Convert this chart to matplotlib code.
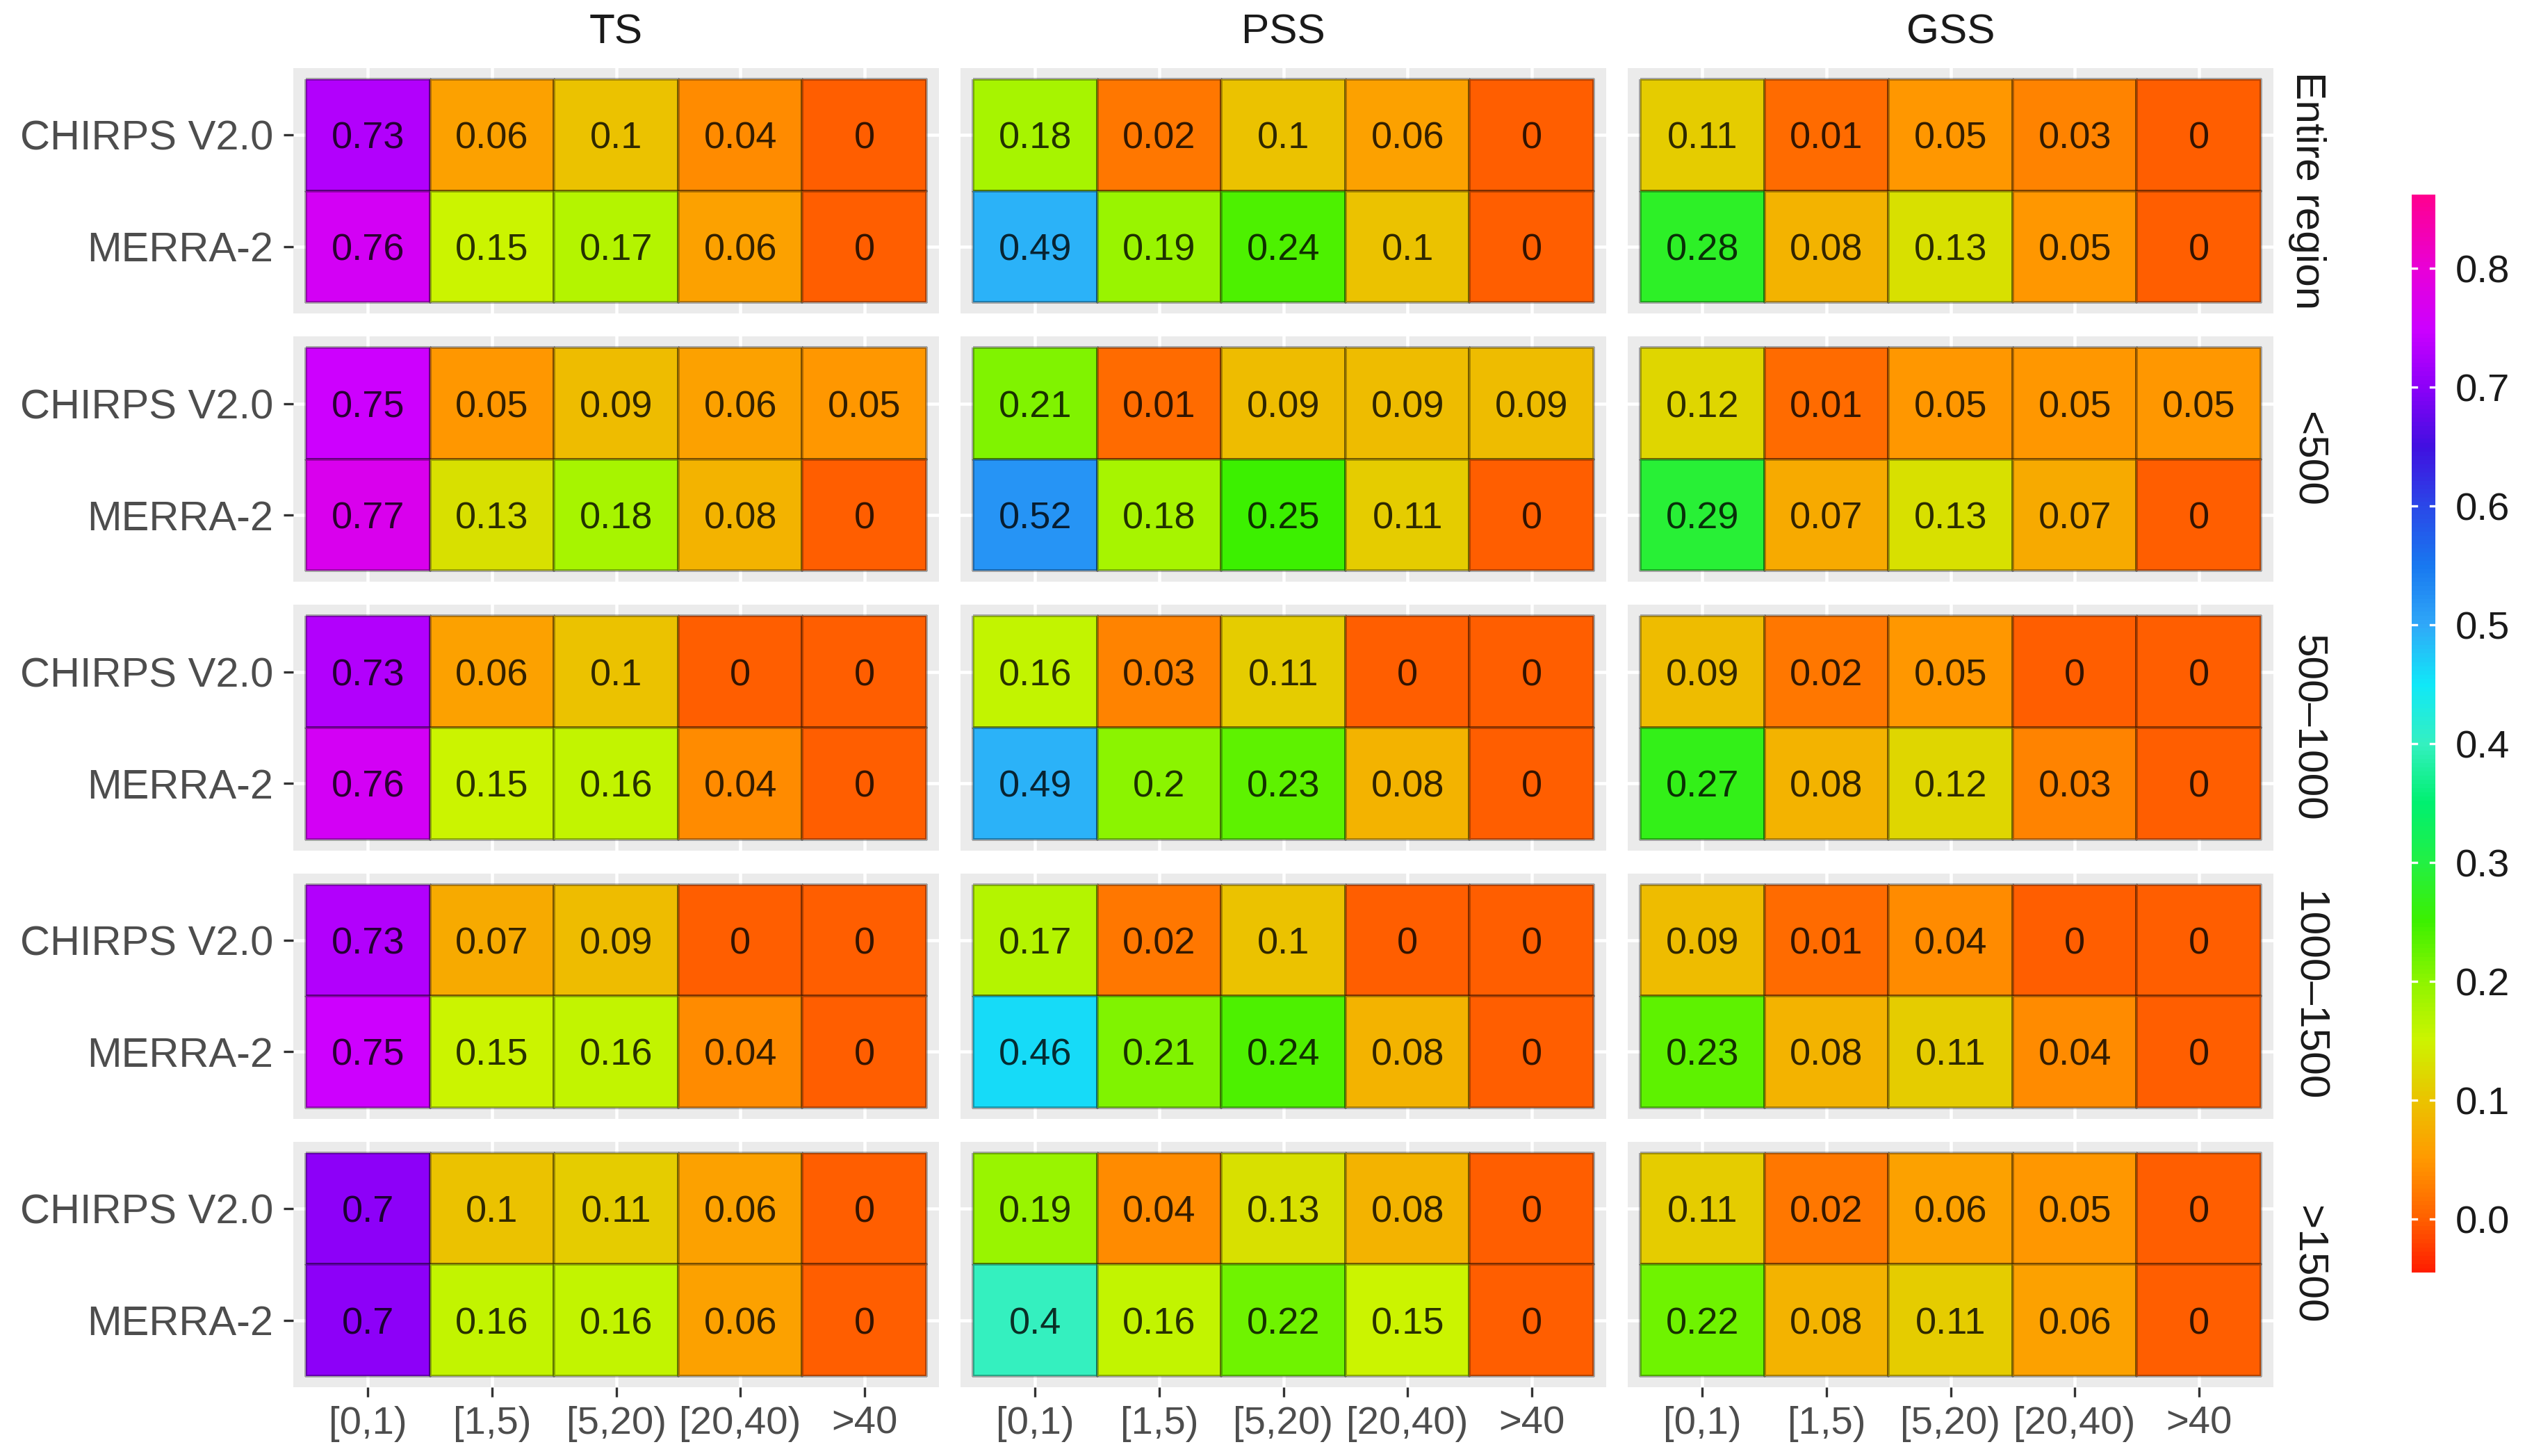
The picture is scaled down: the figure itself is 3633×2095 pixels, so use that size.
import numpy as np
import matplotlib
matplotlib.use("Agg")
import matplotlib.pyplot as plt
from matplotlib.colors import LinearSegmentedColormap, Normalize

plt.rcParams['font.family'] = ['Liberation Sans', 'DejaVu Sans']

W, H, DPI = 3633, 2095, 300

metrics = ["TS", "PSS", "GSS"]
regions = ["Entire region", "<500", "500\u20131000", "1000\u20131500", ">1500"]
products = ["CHIRPS V2.0", "MERRA-2"]
bins = ["[0,1)", "[1,5)", "[5,20)", "[20,40)", ">40"]

# one list per region, columns follow bins
ts_chirps = [[0.73, 0.06, 0.1, 0.04, 0],
             [0.75, 0.05, 0.09, 0.06, 0.05],
             [0.73, 0.06, 0.1, 0, 0],
             [0.73, 0.07, 0.09, 0, 0],
             [0.7, 0.1, 0.11, 0.06, 0]]
ts_merra = [[0.76, 0.15, 0.17, 0.06, 0],
            [0.77, 0.13, 0.18, 0.08, 0],
            [0.76, 0.15, 0.16, 0.04, 0],
            [0.75, 0.15, 0.16, 0.04, 0],
            [0.7, 0.16, 0.16, 0.06, 0]]
pss_chirps = [[0.18, 0.02, 0.1, 0.06, 0],
              [0.21, 0.01, 0.09, 0.09, 0.09],
              [0.16, 0.03, 0.11, 0, 0],
              [0.17, 0.02, 0.1, 0, 0],
              [0.19, 0.04, 0.13, 0.08, 0]]
pss_merra = [[0.49, 0.19, 0.24, 0.1, 0],
             [0.52, 0.18, 0.25, 0.11, 0],
             [0.49, 0.2, 0.23, 0.08, 0],
             [0.46, 0.21, 0.24, 0.08, 0],
             [0.4, 0.16, 0.22, 0.15, 0]]
gss_chirps = [[0.11, 0.01, 0.05, 0.03, 0],
              [0.12, 0.01, 0.05, 0.05, 0.05],
              [0.09, 0.02, 0.05, 0, 0],
              [0.09, 0.01, 0.04, 0, 0],
              [0.11, 0.02, 0.06, 0.05, 0]]
gss_merra = [[0.28, 0.08, 0.13, 0.05, 0],
             [0.29, 0.07, 0.13, 0.07, 0],
             [0.27, 0.08, 0.12, 0.03, 0],
             [0.23, 0.08, 0.11, 0.04, 0],
             [0.22, 0.08, 0.11, 0.06, 0]]

panels = {"TS": (ts_chirps, ts_merra),
          "PSS": (pss_chirps, pss_merra),
          "GSS": (gss_chirps, gss_merra)}

# colour scale
vmin, vmax = -0.045, 0.862
stops = [(-0.045, "#FF1E00"), (0.0, "#FF6200"), (0.05, "#FF9A00"),
         (0.1, "#EAC400"), (0.15, "#CCF400"), (0.2, "#8CF400"),
         (0.25, "#3CF000"), (0.3, "#22F044"), (0.35, "#00F070"),
         (0.4, "#34F0C0"), (0.45, "#10E8F8"), (0.5, "#30A8F8"),
         (0.55, "#1878F0"), (0.6, "#2A48E8"), (0.65, "#4010E0"),
         (0.7, "#8A00F8"), (0.75, "#CC00FF"), (0.8, "#E800D8"),
         (0.862, "#FF0090")]
cmap = LinearSegmentedColormap.from_list(
    "rb", [((v - vmin) / (vmax - vmin), c) for v, c in stops])
norm = Normalize(vmin, vmax)

fig = plt.figure(figsize=(W / DPI, H / DPI), dpi=DPI)

col_left = [422, 1382, 2342]
pw = 929
ph = 353.2
gap = 33
row_top = [98 + i * (ph + gap) for i in range(5)]

for r in range(5):
    for c, m in enumerate(metrics):
        ax = fig.add_axes([col_left[c] / W, 1 - (row_top[r] + ph) / H, pw / W, ph / H])
        ax.set_facecolor('#EBEBEB')
        for s in ax.spines.values():
            s.set_visible(False)
        vals = np.array([panels[m][0][r], panels[m][1][r]])
        ax.pcolormesh(np.arange(-0.5, 5, 1), np.arange(-0.5, 2, 1), vals,
                      cmap=cmap, norm=norm, edgecolors=(0, 0, 0, 0.3),
                      linewidth=0.5, zorder=2)
        for i in range(2):
            for j in range(5):
                ax.text(j, i, f"{vals[i, j]:g}", ha='center', va='center_baseline',
                        fontsize=13, color='black', alpha=0.8, zorder=3)
        ax.set_xlim(-0.6, 4.6)
        ax.set_ylim(1.6, -0.6)
        ax.set_xticks(range(5))
        ax.set_xticklabels(bins)
        ax.set_yticks([0, 1])
        ax.set_yticklabels(products)
        ax.grid(color='white', linewidth=1.1, zorder=1)
        ax.set_axisbelow(True)
        ax.tick_params(length=3.4, width=0.8, color='#333333',
                       labelcolor='#4D4D4D', pad=3.5)
        ax.tick_params(axis='y', labelsize=14.3)
        ax.tick_params(axis='x', labelsize=13.5, pad=3)
        if c != 0:
            ax.tick_params(axis='y', left=False, labelleft=False)
        if r != 4:
            ax.tick_params(axis='x', bottom=False, labelbottom=False)

for c, m in enumerate(metrics):
    fig.text((col_left[c] + pw / 2) / W, 1 - 47 / H, m, ha='center', va='center',
             fontsize=14.5, color='#1A1A1A')

for r, reg in enumerate(regions):
    fig.text(3320 / W, 1 - (row_top[r] + ph / 2) / H, reg, ha='center', va='center',
             rotation=270, fontsize=14.5, color='#1A1A1A')

# colour bar
cax = fig.add_axes([3470 / W, 1 - 1831 / H, 34 / W, (1831 - 280) / H])
sm = plt.cm.ScalarMappable(norm=norm, cmap=cmap)
cb = fig.colorbar(sm, cax=cax)
cb.outline.set_visible(False)
ticks = np.arange(0, 0.81, 0.1)
cb.set_ticks(ticks)
cb.set_ticklabels([f"{t:.1f}" for t in ticks])
cax.tick_params(length=0, labelsize=13.5, labelcolor='#1A1A1A', pad=7)
for t in ticks:
    cax.axhline(t, xmin=0, xmax=0.2, color='white', linewidth=0.8)
    cax.axhline(t, xmin=0.8, xmax=1, color='white', linewidth=0.8)

fig.savefig('out.png', dpi=DPI, facecolor='white')
